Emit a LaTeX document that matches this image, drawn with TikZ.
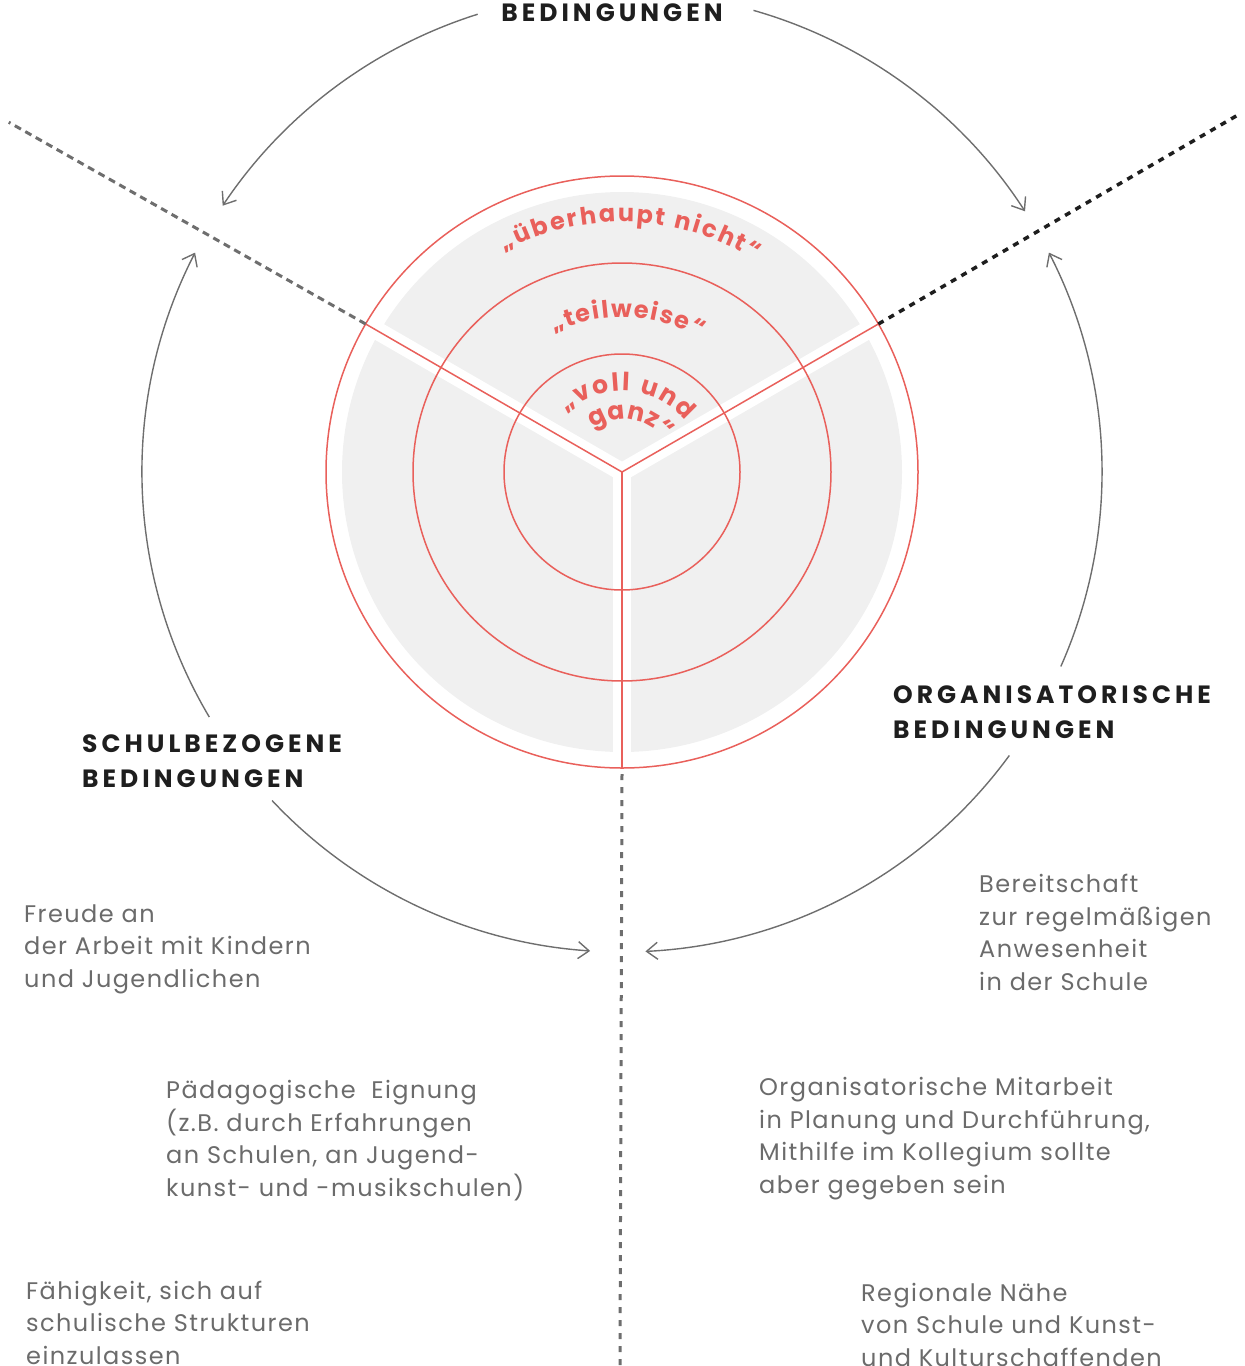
\documentclass[tikz,border=0pt]{standalone}
\usepackage{fontspec}
\usetikzlibrary{arrows.meta,decorations.text,calc}
\newfontfamily\bodyfont[LetterSpace=6]{Poppins}
\newfontfamily\headfont[LetterSpace=16]{Poppins}
\newfontfamily\arcfont{Poppins}
\definecolor{cred}{HTML}{E9605B}
\definecolor{cgrey}{HTML}{F0F0F0}
\definecolor{carc}{HTML}{6E6E6E}
\definecolor{ctext}{HTML}{6B6B6B}
\definecolor{chead}{HTML}{1E1E1E}
\tikzset{
  redline/.style={draw=cred, line width=1.5pt},
  bandline/.style={draw=white, line width=18pt},
  arcarrow/.style={draw=carc, line width=1.4pt, -{Straight Barb[length=11pt,width=17pt]}},
  dotgrey/.style={draw=carc, line width=3pt, dash pattern=on 7pt off 5pt},
  dotdark/.style={draw=chead, line width=3.5pt, dash pattern=on 6pt off 6pt},
  bodytext/.style={text=ctext, inner sep=0pt, align=left, anchor=base west,
    font=\bodyfont\fontsize{24}{32.5}\selectfont},
  headtext/.style={text=chead, inner sep=0pt, align=left, anchor=base west,
    font=\headfont\bfseries\fontsize{25}{35}\selectfont},
}
\begin{document}
\begin{tikzpicture}[x=1pt,y=1pt]
\useasboundingbox (0,0) rectangle (1245,-1366);
\coordinate (C) at (622,-472);
% grey disk with white bands
\fill[cgrey] (C) circle[radius=280pt];
\draw[bandline] (C) -- ++(150:286);
\draw[bandline] (C) -- ++(30:286);
\draw[bandline] (C) -- ++(270:286);
\fill[white] (C) circle[radius=9pt];
% red circles
\draw[redline] (C) circle[radius=296pt];
\draw[redline] (C) circle[radius=209pt];
\draw[redline] (C) circle[radius=118pt];
% red radii
\coordinate (ul) at ($(C)+(150:296)$);
\coordinate (ur) at ($(C)+(30:296)$);
\coordinate (bo) at ($(C)+(270:296)$);
\draw[redline] (C) -- (ul);
\draw[redline] (C) -- (ur);
\draw[redline] (C) -- (bo);
% dotted extensions
\coordinate (ulEnd) at ($(C)+(150.3:706)$);
\coordinate (urEnd) at ($(C)+(30.1:716)$);
\coordinate (boStart) at ($(C)+(270:302)$);
\coordinate (boEnd) at (620,-1366);
\draw[dotgrey] (ul) -- (ulEnd);
\draw[dotdark] (ur) -- (urEnd);
\draw[dotgrey, dash pattern=on 6pt off 7pt] (boStart) -- (boEnd);
% curved texts
\path[decorate, decoration={text along path, text align={fit to path},
  text={|\arcfont\bfseries\fontsize{24}{24}\selectfont\color{cred}|„überhaupt nicht“}}]
  ($(C)+(118:250)$) arc[start angle=118, end angle=58, radius=250pt];
\path[decorate, decoration={text along path, text align={fit to path},
  text={|\arcfont\bfseries\fontsize{24}{24}\selectfont\color{cred}|„teilweise“}}]
  ($(C)+(116:155)$) arc[start angle=116, end angle=60, radius=155pt];
\path[decorate, decoration={text along path, text align={fit to path},
  text={|\arcfont\bfseries\fontsize{25}{25}\selectfont\color{cred}|„voll und}}]
  ($(C)+(133:81)$) arc[start angle=133, end angle=39, radius=81pt];
\path[decorate, decoration={text along path, text align={fit to path},
  text={|\arcfont\bfseries\fontsize{25}{25}\selectfont\color{cred}|ganz“}}]
  ($(C)+(124:53)$) arc[start angle=124, end angle=38, radius=53pt];
% arcs with arrows
\coordinate (a1s) at ($(C)+(107.5:480)$);
\coordinate (a2s) at ($(C)+(74.1:480)$);
\coordinate (a3s) at ($(C)+(210.7:480)$);
\coordinate (a4s) at ($(C)+(-23.9:480)$);
\coordinate (a5s) at ($(C)+(223.2:480)$);
\coordinate (a6s) at ($(C)+(-36.2:480)$);
\draw[arcarrow] (a1s) arc[start angle=107.5, end angle=146.3, radius=480pt];
\draw[arcarrow] (a2s) arc[start angle=74.1, end angle=32.9, radius=480pt];
\draw[arcarrow] (a3s) arc[start angle=210.7, end angle=152.8, radius=480pt];
\draw[arcarrow] (a4s) arc[start angle=-23.9, end angle=27.2, radius=480pt];
\draw[arcarrow] (a5s) arc[start angle=223.2, end angle=266.2, radius=480pt];
\draw[arcarrow] (a6s) arc[start angle=-36.2, end angle=-87.2, radius=480pt];
% headings (anchor = baseline of last line)
\node[headtext, anchor=base] (hTop) at (612,-21) {BEDINGUNGEN};
\node[headtext] (hLeft) at (82,-787) {SCHULBEZOGENE\\BEDINGUNGEN};
\node[headtext] (hRight) at (893,-738) {ORGANISATORISCHE\\BEDINGUNGEN};
% body texts (anchor = baseline of last line)
\node[bodytext] (t1) at (24,-987) {Freude an\\der Arbeit mit Kindern\\und Jugendlichen};
\node[bodytext] (t2) at (166,-1196) {Pädagogische\ \ Eignung\\(z.B. durch Erfahrungen\\an Schulen, an Jugend-\\kunst- und -musikschulen)};
\node[bodytext] (t3) at (26,-1364) {Fähigkeit, sich auf\\schulische Strukturen\\einzulassen};
\node[bodytext] (t4) at (979,-990) {Bereitschaft\\zur regelmäßigen\\Anwesenheit\\in der Schule};
\node[bodytext] (t5) at (759,-1193) {Organisatorische Mitarbeit\\in Planung und Durchführung,\\Mithilfe im Kollegium sollte\\aber gegeben sein};
\node[bodytext] (t6) at (861,-1366) {Regionale Nähe\\von Schule und Kunst-\\und Kulturschaffenden};
\end{tikzpicture}
\end{document}
